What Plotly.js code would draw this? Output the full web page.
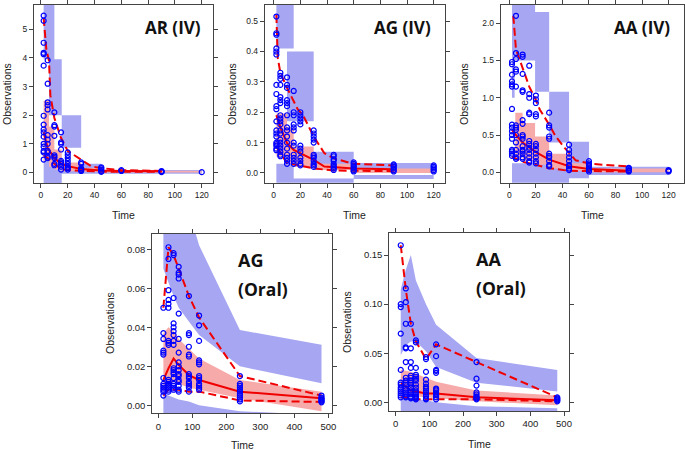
<!DOCTYPE html>
<html><head><meta charset="utf-8">
<script src="https://cdn.plot.ly/plotly-3.0.1.min.js"></script>
<style>body{margin:0;background:#fff}#chart{width:685px;height:450px}</style>
</head><body><div id="chart"></div>
<script>
// ================= AR (IV) =================
const AR_times = [2,5,10,15,20,30,45,60,90,120];
const AR_obs = [
  [5.48,5.3,4.53,4.18,4.13,3.73,1.98,1.67,1.5,1.4,1.25,1.0,0.9,0.75,0.7,0.45],
  [3.92,3.1,2.45,2.35,2.2,1.3,1.15,1.0,0.75,0.7,0.55,0.5],
  [2.1,1.65,1.6,1.28,0.6,0.55,0.5,0.3,0.25],
  [1.4,1.05,1.0,0.8,0.4,0.35,0.3,0.2,0.1],
  [0.7,0.6,0.5,0.4,0.3,0.2,0.15,0.1],
  [0.35,0.3,0.15,0.1,0.08,0.05],
  [0.18,0.15,0.1,0.05,0.02],
  [0.08,0.05],
  [0.05,0.03,0.01],
  [0.01]
];
const AR_p95_t = [2,4,6,7,10,15,20,30,38,45,60,90];
const AR_p95   = [5.4,4.3,3.9,2.7,1.9,1.2,0.75,0.45,0.2,0.15,0.08,0.05];
const AR_mid_t = [2,5,10,15,20,30,45,60,90];
const AR_p50   = [1.4,0.85,0.5,0.3,0.22,0.12,0.07,0.05,0.04];
const AR_p05   = [0.6,0.5,0.3,0.12,0.08,0.05,0.03,0.02,0.02];
const AR_piL  = [2,6,15.5,2,15.5,45];
const AR_piR  = [10,15.5,30,15.5,45,120];
const AR_piLo = [3.95,2.0,0.86,-0.6,-0.05,-0.05];
const AR_piHi = [6.5,3.95,2.0,0.45,0.3,0.08];
const AR_ciL  = [2,6,10,15.5,30,45];
const AR_ciR  = [6,10,15.5,30,45,120];
const AR_ciLo = [0.4,0.2,0.1,0.04,0.02,0.0];
const AR_ciHi = [2.5,1.6,0.8,0.35,0.15,0.06];

// ================= AG (IV) =================
const AG_times = [2,5,10,15,20,30,45,60,90,120];
const AG_obs = [
  [0.515,0.46,0.455,0.41,0.40,0.39,0.29,0.26,0.22,0.21,0.17,0.14,0.13,0.12,0.10,0.095,0.09,0.08,0.075],
  [0.33,0.32,0.31,0.29,0.25,0.24,0.23,0.19,0.18,0.17,0.16,0.14,0.13,0.11,0.10,0.09,0.08,0.07,0.06,0.055],
  [0.315,0.29,0.28,0.24,0.23,0.22,0.19,0.15,0.14,0.12,0.1,0.08,0.06,0.05,0.04,0.03],
  [0.27,0.2,0.19,0.16,0.15,0.14,0.1,0.09,0.06,0.05,0.04,0.03],
  [0.2,0.19,0.18,0.17,0.16,0.09,0.08,0.07,0.05,0.04,0.03,0.025],
  [0.14,0.13,0.12,0.11,0.10,0.06,0.055,0.05,0.04,0.03,0.025,0.02],
  [0.06,0.055,0.045,0.04,0.03,0.025,0.02,0.015,0.01],
  [0.035,0.03,0.025,0.02,0.015,0.01,0.005],
  [0.028,0.025,0.02,0.015,0.01,0.005],
  [0.025,0.02,0.015,0.01,0.005]
];
const AG_p95_t = [2,3,5,10,18,22,30,38,45,60,90];
const AG_p95   = [0.52,0.38,0.33,0.28,0.21,0.19,0.12,0.065,0.048,0.03,0.025];
const AG_p50_t = [2,5,10,15,30,38,60,90];
const AG_p50   = [0.19,0.15,0.098,0.076,0.043,0.021,0.015,0.012];
const AG_p05_t = [2,5,10,18,30,45,90];
const AG_p05   = [0.087,0.065,0.032,0.026,0.015,0.008,0.006];
const AG_piL  = [2,10,30,60,2,15,60];
const AG_piR  = [15,30,60,120,15,60,120];
const AG_piLo = [0.41,0.17,0.02,0.008,-0.05,-0.05,-0.02];
const AG_piHi = [0.6,0.40,0.07,0.033,0.03,-0.018,-0.007];
const AG_ciL  = [2,10,15,30,60];
const AG_ciR  = [10,15,30,60,120];
const AG_ciLo = [0.054,0.03,0.02,0.01,0.0];
const AG_ciHi = [0.196,0.15,0.087,0.03,0.015];

// ================= AA (IV) =================
const AA_times = [2,5,10,15,20,30,45,60,90,120];
const AA_obs = [
  [1.48,1.45,1.31,1.22,1.18,1.15,0.85,0.64,0.6,0.55,0.5,0.45,0.3,0.28,0.25,0.22],
  [2.1,1.6,1.52,1.38,1.35,1.15,0.63,0.6,0.57,0.5,0.4,0.3,0.25,0.2,0.18],
  [1.58,1.55,1.32,1.1,1.08,0.7,0.65,0.5,0.48,0.45,0.35,0.3,0.28,0.25,0.2,0.18],
  [1.43,1.05,1.0,0.8,0.78,0.42,0.38,0.33,0.3,0.25,0.2,0.15,0.13],
  [1.03,0.98,0.93,0.78,0.75,0.38,0.35,0.3,0.25,0.2,0.15,0.12],
  [0.8,0.63,0.6,0.48,0.45,0.25,0.22,0.2,0.15,0.1,0.08],
  [0.37,0.3,0.25,0.2,0.15,0.1,0.08,0.05,0.03],
  [0.15,0.12,0.1,0.08,0.05,0.03,0.01],
  [0.06,0.05,0.03,0.02,0.01],
  [0.03,0.02,0.01]
];
const AA_p95_t = [3,4,5,7,10,15,20,23,30,35,42,50,60,70,90];
const AA_p95   = [2.1,1.8,1.65,1.55,1.4,1.15,0.97,0.84,0.64,0.48,0.32,0.16,0.12,0.1,0.08];
const AA_mid_t = [2,5,10,15,20,30,45,60,90];
const AA_p50   = [0.57,0.5,0.4,0.33,0.27,0.17,0.08,0.045,0.02];
const AA_p05   = [0.21,0.18,0.14,0.12,0.1,0.054,0.02,0.015,0.01];
const AA_piL  = [2,2,19.4,30,45,60,2];
const AA_piR  = [19.4,4,30,45,60,120,45];
const AA_piLo = [1.5,1.0,1.08,0.4,-0.08,-0.035,-0.3];
const AA_piHi = [2.4,1.5,2.15,1.08,0.41,0.075,0.12];
const AA_ciL  = [4.5,10,19.4,30,45,60];
const AA_ciR  = [10,19.4,30,45,60,120];
const AA_ciLo = [0.2,0.15,0.1,0.05,0.02,0.0];
const AA_ciHi = [0.8,0.66,0.48,0.25,0.12,0.05];

// ================= AG (Oral) =================
const AGo_times = [15,30,45,60,90,120,240,480];
const AGo_obs = [
  [0.050,0.037,0.034,0.028,0.027,0.026,0.014,0.011,0.010,0.009,0.008,0.007,0.005],
  [0.081,0.075,0.059,0.054,0.052,0.050,0.033,0.032,0.031,0.013,0.012,0.011,0.010,0.009,0.008,0.007],
  [0.078,0.077,0.055,0.042,0.040,0.038,0.036,0.033,0.031,0.019,0.018,0.017,0.016,0.014,0.011,0.010,0.009,0.008],
  [0.071,0.068,0.067,0.065,0.047,0.034,0.027,0.022,0.020,0.018,0.016,0.015,0.013,0.012,0.010,0.008,0.007],
  [0.056,0.037,0.036,0.030,0.026,0.025,0.016,0.015,0.014,0.012,0.011,0.010,0.009,0.007],
  [0.046,0.041,0.033,0.023,0.022,0.021,0.015,0.014,0.013,0.011,0.010,0.009,0.008],
  [0.015,0.011,0.010,0.009,0.008,0.007,0.006,0.005,0.004,0.003,0.002],
  [0.005,0.004,0.0035,0.003,0.0025,0.002,0.0015]
];
const AGo_p95 = [0.050,0.081,0.077,0.070,0.056,0.045,0.015,0.005];
const AGo_p50 = [0.013,0.019,0.024,0.0207,0.0155,0.013,0.007,0.0036];
const AGo_p05 = [0.005,0.008,0.008,0.008,0.007,0.007,0.0025,0.0017];
const AGo_hiLo = [0.070,0.063,0.056,0.050,0.043,0.036,0.020,0.0113];
const AGo_hiHi = [0.1,0.1,0.1,0.1,0.1,0.082,0.0386,0.031];
const AGo_midLo = [0.005,0.010,0.012,0.011,0.009,0.008,0.0036,-0.003];
const AGo_midHi = [0.037,0.040,0.038,0.034,0.029,0.024,0.013,0.007];
const AGo_loLo = [-0.01,-0.01,-0.01,-0.01,-0.01,-0.01,-0.01,-0.01];
const AGo_loHi = [0.006,0.005,0.004,0.003,0.002,0.0,-0.003,-0.005];

// ================= AA (Oral) =================
const AAo_times = [15,30,45,60,90,120,240,480];
const AAo_obs = [
  [0.16,0.1,0.097,0.07,0.033,0.02,0.018,0.015,0.013,0.011,0.009,0.007,0.005],
  [0.116,0.102,0.08,0.056,0.055,0.041,0.025,0.022,0.02,0.018,0.014,0.012,0.01,0.008,0.006,0.005],
  [0.08,0.055,0.041,0.035,0.027,0.025,0.022,0.02,0.018,0.015,0.012,0.01,0.008,0.006,0.005,0.004],
  [0.063,0.061,0.035,0.028,0.026,0.024,0.022,0.018,0.015,0.012,0.01,0.008,0.006,0.005,0.004,0.003],
  [0.046,0.044,0.031,0.023,0.019,0.016,0.014,0.012,0.01,0.008,0.006,0.004,0.003],
  [0.059,0.047,0.033,0.032,0.03,0.014,0.013,0.012,0.01,0.008,0.007,0.005,0.003],
  [0.041,0.024,0.017,0.01,0.008,0.006,0.005,0.004,0.003],
  [0.005,0.004,0.003,0.002,0.001]
];
const AAo_p95 = [0.16,0.115,0.08,0.062,0.044,0.059,0.041,0.005];
const AAo_p50 = [0.019,0.016,0.012,0.011,0.009,0.009,0.005,0.002];
const AAo_p05 = [0.005,0.005,0.004,0.003,0.003,0.003,0.003,0.001];
const AAo_hiLo = [0.048,0.058,0.062,0.062,0.052,0.036,0.020,0.011];
const AAo_hiHi = [0.115,0.135,0.150,0.124,0.100,0.079,0.045,0.033];
const AAo_midLo = [0.009,0.008,0.007,0.006,0.005,0.004,0.001,-0.003];
const AAo_midHi = [0.033,0.032,0.031,0.029,0.025,0.021,0.012,0.007];
const AAo_loLo = [-0.02,-0.02,-0.02,-0.02,-0.02,-0.02,-0.02,-0.02];
const AAo_loHi = [0.005,0.004,0.004,0.003,0.002,0.0,-0.004,-0.006];

// ================= helpers =================
const BLUE_FILL = 'rgb(166,166,242)';
const PINK_FILL = 'rgb(247,170,170)';
const RED = 'rgb(240,0,0)';

function rects(L,R,lo,hi){
  const x=[],y=[];
  for(let i=0;i<L.length;i++){
    x.push(L[i],R[i],R[i],L[i],L[i],null);
    y.push(lo[i],lo[i],hi[i],hi[i],lo[i],null);
  }
  return {x,y};
}
function band(t,lo,hi){
  return {x:t.concat(t.slice().reverse()), y:hi.concat(lo.slice().reverse())};
}
function flatten(times,obs){
  const x=[],y=[];
  times.forEach((t,i)=>obs[i].forEach(v=>{x.push(t);y.push(v);}));
  return {x,y};
}
const traces=[];
function fillTrace(p,ax,color){
  traces.push({x:p.x,y:p.y,xaxis:'x'+ax,yaxis:'y'+ax,type:'scatter',mode:'none',
    fill:'toself',fillcolor:color,hoverinfo:'skip',showlegend:false});
}
function lineTrace(x,y,ax,dash){
  traces.push({x,y,xaxis:'x'+ax,yaxis:'y'+ax,type:'scatter',mode:'lines',
    line:{color:RED,width:2,dash:dash?'8px,4px':'solid'},showlegend:false});
}
function pointTrace(p,ax){
  traces.push({x:p.x,y:p.y,xaxis:'x'+ax,yaxis:'y'+ax,type:'scatter',mode:'markers',
    marker:{symbol:'circle-open',size:5,color:'#0000ff',line:{width:1.2,color:'#0000ff'}},showlegend:false});
}

// Panel 1 AR IV
fillTrace(rects(AR_piL,AR_piR,AR_piLo,AR_piHi),'',BLUE_FILL);
fillTrace(rects(AR_ciL,AR_ciR,AR_ciLo,AR_ciHi),'',PINK_FILL);
lineTrace(AR_p95_t,AR_p95,'',true);
lineTrace(AR_mid_t,AR_p50,'',false);
lineTrace(AR_mid_t,AR_p05,'',true);
pointTrace(flatten(AR_times,AR_obs),'');
// Panel 2 AG IV
fillTrace(rects(AG_piL,AG_piR,AG_piLo,AG_piHi),'2',BLUE_FILL);
fillTrace(rects(AG_ciL,AG_ciR,AG_ciLo,AG_ciHi),'2',PINK_FILL);
lineTrace(AG_p95_t,AG_p95,'2',true);
lineTrace(AG_p50_t,AG_p50,'2',false);
lineTrace(AG_p05_t,AG_p05,'2',true);
pointTrace(flatten(AG_times,AG_obs),'2');
// Panel 3 AA IV
fillTrace(rects(AA_piL,AA_piR,AA_piLo,AA_piHi),'3',BLUE_FILL);
fillTrace(rects(AA_ciL,AA_ciR,AA_ciLo,AA_ciHi),'3',PINK_FILL);
lineTrace(AA_p95_t,AA_p95,'3',true);
lineTrace(AA_mid_t,AA_p50,'3',false);
lineTrace(AA_mid_t,AA_p05,'3',true);
pointTrace(flatten(AA_times,AA_obs),'3');
// Panel 4 AG Oral
fillTrace(band(AGo_times,AGo_hiLo,AGo_hiHi),'4',BLUE_FILL);
fillTrace(band(AGo_times,AGo_loLo,AGo_loHi),'4',BLUE_FILL);
fillTrace(band(AGo_times,AGo_midLo,AGo_midHi),'4',PINK_FILL);
lineTrace(AGo_times,AGo_p95,'4',true);
lineTrace(AGo_times,AGo_p50,'4',false);
lineTrace(AGo_times,AGo_p05,'4',true);
pointTrace(flatten(AGo_times,AGo_obs),'4');
// Panel 5 AA Oral
fillTrace(band(AAo_times,AAo_hiLo,AAo_hiHi),'5',BLUE_FILL);
fillTrace(band(AAo_times,AAo_loLo,AAo_loHi),'5',BLUE_FILL);
fillTrace(band(AAo_times,AAo_midLo,AAo_midHi),'5',PINK_FILL);
lineTrace(AAo_times,AAo_p95,'5',true);
lineTrace(AAo_times,AAo_p50,'5',false);
lineTrace(AAo_times,AAo_p05,'5',true);
pointTrace(flatten(AAo_times,AAo_obs),'5');

// ================= layout =================
const W=685,H=450;
const FONT='"Liberation Sans", Arial, sans-serif';
function xa(px0,px1,range,dtick,anchor,fs){
  return {domain:[px0/W,px1/W],range,dtick,tick0:0,anchor,showgrid:false,zeroline:false,
    showline:true,mirror:'ticks',linecolor:'#444',linewidth:1,ticks:'outside',ticklen:4,
    tickcolor:'#444',tickfont:{family:FONT,size:fs,color:'#222'},fixedrange:true};
}
function ya(py0,py1,range,dtick,fmt,anchor,fs){
  return {domain:[1-py1/H,1-py0/H],range,dtick,tick0:0,tickformat:fmt,anchor,showgrid:false,zeroline:false,
    showline:true,mirror:'ticks',linecolor:'#444',linewidth:1,ticks:'outside',ticklen:4,
    tickcolor:'#444',tickfont:{family:FONT,size:fs,color:'#222'},fixedrange:true};
}
const ann=[];
function axTitle(text,xp,yp,rot){
  ann.push({text,x:xp/W,y:1-yp/H,xref:'paper',yref:'paper',showarrow:false,
    textangle:rot?-90:0,font:{family:FONT,size:10.5,color:'#222'},xanchor:'center',yanchor:'middle'});
}
function label(text,xp,yp,anchor,fs){
  ann.push({text,x:xp/W,y:1-yp/H,xref:'paper',yref:'paper',showarrow:false,
    font:{family:'"Open Sans", sans-serif',size:fs,color:'#111',weight:700},xanchor:anchor,yanchor:'middle'});
}
axTitle('Time',123,215,false); axTitle('Observations',7,94,true);
axTitle('Time',354,215,false); axTitle('Observations',232,94,true);
axTitle('Time',592,215,false); axTitle('Observations',464,94,true);
axTitle('Time',242,445,false); axTitle('Observations',110,323,true);
axTitle('Time',479,444,false); axTitle('Observations',347,322,true);
label('AR (IV)',173,27,'center',17);
label('AG (IV)',402,27,'center',17);
label('AA (IV)',642,27,'center',17);
label('AG',236,260,'left',18); label('(Oral)',236,289,'left',17.5);
label('AA',474,259,'left',18); label('(Oral)',474,288,'left',17.5);

const layout={width:W,height:H,margin:{l:0,r:0,t:0,b:0},paper_bgcolor:'#fff',plot_bgcolor:'#fff',
  showlegend:false,annotations:ann,
  xaxis: xa(34,213,[-5.2,128.4],20,'y',8.5),
  yaxis: ya(5,183,[-0.37,5.85],1,'d','x',8.5),
  xaxis2: xa(264.7,444.7,[-6.75,128.25],20,'y2',8.5),
  yaxis2: ya(5,182.7,[-0.032,0.553],0.1,'.1f','x2',8.5),
  xaxis3: xa(500.7,684,[-6.5,131.6],20,'y3',8.5),
  yaxis3: ya(5,182.7,[-0.14,2.245],0.5,'.1f','x3',8.5),
  xaxis4: xa(152.3,331.7,[-17.6,510],100,'y4',9.5),
  yaxis4: ya(234,413.3,[-0.0041,0.0878],0.02,'.2f','x4',9.5),
  xaxis5: xa(389.3,569.3,[-19,515.7],100,'y5',9.5),
  yaxis5: ya(232.7,411,[-0.0089,0.1728],0.05,'.2f','x5',9.5)
};
Plotly.newPlot('chart',traces,layout,{displayModeBar:false,staticPlot:true});
</script>
</body></html>
